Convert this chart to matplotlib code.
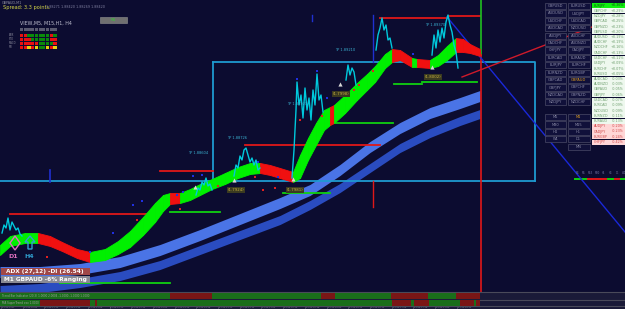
import matplotlib
matplotlib.use("Agg")
import matplotlib.pyplot as plt
from matplotlib.patches import Rectangle, Polygon
import numpy as np

# ---------------- data ----------------
# main trend band (upper edge, lower edge, state 1=green 0=red)
band_x   = [0, 10, 25, 38, 50, 62, 77, 90, 105, 118, 130, 143, 155, 163, 170, 180, 190, 200, 212, 225, 238, 250, 260, 270, 280, 293, 300, 308, 316, 324, 330, 334, 345, 357, 367, 375, 385, 392, 400, 412, 417, 430, 438, 447, 456, 463, 470, 480]
band_top = [245, 236, 233, 233, 236, 242, 249, 252, 249, 241, 231, 217, 203, 195, 193, 193, 189, 184, 179, 173, 167, 163, 163, 165, 168, 172, 155, 138, 123, 110, 107, 105, 95, 83, 74, 66, 54, 49, 50, 58, 59, 60, 55, 46, 38, 39, 44, 49]
band_bot = [255, 246, 243, 243, 246, 251, 258, 262, 260, 254, 247, 235, 222, 211, 204, 203, 200, 195, 189, 184, 178, 174, 173, 175, 178, 182, 178, 160, 145, 130, 125, 123, 113, 100, 90, 82, 68, 62, 60, 67, 67, 68, 66, 60, 52, 52, 53, 56]
band_state = [1, 1, 1, 0, 0, 0, 0, 1, 1, 1, 1, 1, 1, 1, 0, 1, 1, 1, 1, 1, 1, 1, 0, 0, 0, 1, 1, 1, 1, 1, 0, 1, 1, 1, 1, 1, 1, 0, 0, 1, 0, 1, 1, 1, 0, 0, 0, 0]

# moving-average ribbons
ma_x      = [0, 40, 80, 120, 160, 200, 240, 280, 310, 340, 370, 400, 430, 460, 480]
ma_light  = [272, 272, 269, 262, 250, 235, 219, 203, 190, 170, 147, 128, 113, 103, 96]
ma_dark   = [290, 288, 283, 276, 265, 250, 235, 220, 205, 188, 168, 148, 133, 121, 114]

# price line clusters
price_a_x = [2, 4, 6, 8, 10, 12, 14, 16, 18, 20, 22]
price_a_y = [233, 225, 228, 218, 230, 222, 226, 230, 228, 234, 236]
price_b_x = [196, 198, 200, 202, 204, 206, 208, 210, 212]
price_b_y = [195, 188, 190, 182, 185, 178, 186, 184, 190]
price_c_x = [234, 236, 238, 240, 242, 244, 246, 248, 250, 252, 254, 256, 258, 260]
price_c_y = [176, 165, 168, 156, 160, 150, 148, 155, 162, 158, 165, 160, 170, 168]
price_d_x = [292, 294, 296, 297, 299, 301, 303, 305, 307, 309, 311, 313, 315, 317, 319, 321, 323]
price_d_y = [178, 150, 110, 82, 105, 95, 118, 88, 110, 98, 120, 90, 105, 74, 100, 95, 112]
price_e_x = [346, 348, 350, 352, 354, 356]
price_e_y = [80, 65, 75, 68, 72, 85]
price_f_x = [376, 378, 380, 382, 384, 386, 388, 390, 392]
price_f_y = [50, 35, 28, 18, 30, 25, 40, 38, 48]
price_g_x = [432, 434, 436, 438, 440, 442, 444, 446, 448, 450, 452, 454, 456, 458]
price_g_y = [55, 35, 48, 30, 42, 28, 38, 22, 15, 25, 32, 45, 52, 68]

red_dots_x = [47, 137, 180, 218, 255, 263, 275, 300, 322, 354, 359, 373]
red_dots_y = [257, 220, 209, 186, 177, 190, 188, 120, 116, 90, 85, 71]
blue_dots_x = [90, 113, 133, 142, 177, 183, 193, 202, 258, 278, 297, 317, 327, 413]
blue_dots_y = [252, 233, 205, 201, 195, 192, 176, 175, 162, 177, 79, 71, 98, 54]
arrow_x = [195, 234, 293, 340, 432]
arrow_y = [187, 180, 179, 84, 67]

# level lines
red_levels = [(10, 160, 214), (160, 213, 171), (245, 380, 145), (380, 448, 18), (448, 480, 16)]
green_levels = [(60, 170, 283), (170, 220, 212), (283, 330, 193), (332, 393, 123), (394, 422, 84), (422, 477, 82)]

tp_labels = ["TP 1.88604", "TP 1.88726", "TP 1.88923", "TP 1.89210", "TP 1.89370"]
tp_pos_x = [188, 227, 287, 335, 425]
tp_pos_y = [153, 138, 104, 50, 25]
entry_labels = ["(1.7924)", "(1.7981)", "(1.7998)", "(1.8002)"]
entry_x = [228, 287, 333, 425]
entry_y = [190, 190, 94, 77]

# top-left grid
grid_rows = ["ADX", "STO", "MACD", "RSI"]
grid_vals = [
    "RRGGGGGGRG",
    "RRRGGGGGRR",
    "RRRRRGGGGR",
    "RRYRYGGYRY",
]

# right pair buttons
btn_left  = ["GBPUSD", "AUDUSD", "USDCHF", "AUDCAD", "AUDJPY", "CADCHF", "CHFJPY", "EURCAD", "EURJPY", "EURNZD", "GBPCAD", "GBPJPY", "NZDCAD", "NZDJPY"]
btn_right = ["EURUSD", "USDJPY", "USDCAD", "NZDUSD", "AUDCHF", "AUDNZD", "CADJPY", "EURAUD", "EURCHF", "EURGBP", "GBPAUD", "GBPCHF", "GBPNZD", "NZDCHF"]
tf_left  = ["M5", "M30", "H4", "W1", ""]
tf_right = ["M1", "M15", "H1", "D1", "MN"]

# strength list
list_pairs = ["EURJPY", "GBPCHF", "NZDJPY", "GBPCAD", "GBPNZD", "GBPUSD", "AUDUSD", "AUDCHF", "NZDCHF", "CADCHF", "USDCHF", "USDJPY", "EURCHF", "EURUSD", "AUDCAD", "AUDNZD", "GBPAUD", "GBPJPY", "USDCAD", "EURCAD", "NZDUSD", "EURNZD", "EURAUD", "AUDJPY", "CADJPY", "EURGBP", "CHFJPY"]
list_pct = [0.36, 0.29, 0.28, 0.25, 0.23, 0.20, 0.19, 0.19, 0.16, 0.13, 0.11, 0.09, 0.07, 0.05, -0.03, -0.03, -0.05, -0.06, -0.07, -0.09, -0.09, -0.11, -0.13, -0.20, -0.23, -0.24, -0.42]

# timeframe trend dashes (right)
tf_names = ["M1", "M5", "M15", "M30", "H1", "H4", "D1", "W1"]
tf_state = [1, 1, 0, 0, 0, 1, 0, 1]

# bottom indicator strips (segment edges + state)
strip1_edges = [0, 170, 212, 321, 335, 391, 428, 456, 480]
strip1_state = [1, 0, 1, 0, 1, 0, 1, 0]
strip2_edges = [0, 40, 90, 95, 97, 392, 411, 414, 429, 460, 474, 476, 480]
strip2_state = [1, 0, 1, 0, 1, 0, 1, 0, 1, 0, 1, 0]

time_labels = ["8 Sep 2021", "8 Sep 10:52", "8 Sep 11:14", "8 Sep 11:36", "8 Sep 11:58", "8 Sep 12:20",
               "8 Sep 12:42", "8 Sep 13:04", "8 Sep 13:26", "8 Sep 13:48", "8 Sep 14:10", "8 Sep 14:32",
               "8 Sep 14:54", "8 Sep 15:16", "8 Sep 15:38", "8 Sep 16:00", "8 Sep 16:22", "8 Sep 16:44",
               "8 Sep 17:06", "8 Sep 17:28", "8 Sep 17:50", "8 Sep 18:12"]

# ---------------- drawing ----------------
BG = "#0c0c30"
GREEN = "#00f000"
RED = "#f01010"
CYAN = "#00c8dc"
BOX = "#1e9ad0"

fig = plt.figure(figsize=(6.25, 3.09), dpi=100)
fig.patch.set_facecolor(BG)
ax = fig.add_axes([0, 0, 1, 1])
ax.set_facecolor(BG)
ax.set_xlim(0, 625)
ax.set_ylim(309, 0)
ax.axis("off")

# MA ribbons
ma_x_a = np.array(ma_x, float)
ax.fill_between(ma_x_a, np.array(ma_light) - 5.5, np.array(ma_light) + 5.5, color="#4a74e6", lw=0, zorder=2)
ax.fill_between(ma_x_a, np.array(ma_dark) - 4.5, np.array(ma_dark) + 4.5, color="#2a4cc0", lw=0, zorder=2)

# cyan box and horizontal line
ax.plot([213, 535, 535], [62, 62, 181], color=BOX, lw=1.3, zorder=3)
ax.plot([213, 213], [62, 181], color=BOX, lw=1.3, zorder=3)
ax.plot([0, 535], [181, 181], color=BOX, lw=1.3, zorder=3)

# trend band
for i in range(len(band_x) - 1):
    c = GREEN if band_state[i] else RED
    ax.fill_between([band_x[i], band_x[i + 1]], [band_top[i], band_top[i + 1]],
                    [band_bot[i], band_bot[i + 1]], color=c, lw=0.6, edgecolor=c, zorder=4)

# level lines
for x0, x1, y in red_levels:
    ax.plot([x0, x1], [y, y], color="#e01818", lw=1.3, zorder=3)
for x0, x1, y in green_levels:
    ax.plot([x0, x1], [y, y], color="#10d010", lw=1.3, zorder=3)

# verticals
ax.plot([481, 481], [0, 55], color="#20c020", lw=1.2, zorder=3)
ax.plot([481, 481], [55, 292], color="#e01818", lw=1.2, zorder=3)
ax.plot([373, 373], [181, 207], color="#e01818", lw=1.0, zorder=3)
ax.plot([373, 373], [15, 62], color="#2030d0", lw=1.0, zorder=3)
ax.plot([50, 50], [170, 182], color="#2030d0", lw=1.2, zorder=3)
ax.plot([312, 312], [15, 21], color="#2030d0", lw=1.0, zorder=3)

# diagonals
ax.plot([447, 625], [17, 232], color="#1a28d8", lw=1.0, zorder=3)
ax.plot([462, 592], [77, 27], color="#d01a2a", lw=1.0, zorder=3)

# price lines
for px, py in [(price_a_x, price_a_y), (price_b_x, price_b_y), (price_c_x, price_c_y),
               (price_d_x, price_d_y), (price_e_x, price_e_y), (price_f_x, price_f_y),
               (price_g_x, price_g_y)]:
    ax.plot(px, py, color=CYAN, lw=1.0, zorder=5)

ax.scatter(red_dots_x, red_dots_y, s=2.5, color="#e02020", marker="s", zorder=5, lw=0)
ax.scatter(blue_dots_x, blue_dots_y, s=2.5, color="#2030e0", marker="s", zorder=5, lw=0)
ax.scatter(arrow_x, arrow_y, s=9, color="#d8d8d8", marker="^", zorder=6, lw=0)

for t, x, y in zip(tp_labels, tp_pos_x, tp_pos_y):
    ax.text(x, y, t, color="#3ab0d0", fontsize=2.6, ha="left", va="center", zorder=6)
for t, x, y in zip(entry_labels, entry_x, entry_y):
    ax.text(x, y, t, color="#c8b040", fontsize=2.8, ha="left", va="center", zorder=6,
            bbox=dict(boxstyle="square,pad=0.15", fc="#3a3a20", ec="none"))

# D1 / H4 symbols
ax.add_patch(Polygon([[15, 236], [20, 243], [15, 250], [10, 243]], closed=True, fill=False, ec="#e070c0", lw=1.0, zorder=7))
ax.add_patch(Polygon([[30, 236], [35, 242], [32, 242], [32, 249], [28, 249], [28, 242], [25, 242]], closed=True,
                     fill=False, ec="#30a0d0", lw=1.0, zorder=7))
ax.text(8, 256, "D1", color="#e070c0", fontsize=4.5, fontweight="bold", va="center", zorder=7)
ax.text(24, 256, "H4", color="#30a0d0", fontsize=4.5, fontweight="bold", va="center", zorder=7)

# ADX boxes
ax.add_patch(Rectangle((1, 267.5), 89, 7, fc="#a04848", ec="none", zorder=7))
ax.text(45, 271, "ADX (27,12) -DI (26.54)", color="white", fontsize=4.2, fontweight="bold",
        ha="center", va="center", zorder=8)
ax.add_patch(Rectangle((1, 276), 89, 7.3, fc="#8a8a94", ec="none", zorder=7))
ax.text(45, 279.7, "M1 GBPAUD -6% Ranging", color="white", fontsize=4.2, fontweight="bold",
        ha="center", va="center", zorder=8)

# top-left texts
ax.text(2, 2.5, "GBPAUD,M1", color="#9090a0", fontsize=2.4, va="center")
ax.text(3, 7.5, "Spread: 3.3 points.", color="#d8d848", fontsize=3.6, va="center")
ax.text(46, 6.5, "1.88271 1.88420 1.88269 1.88420", color="#8080a0", fontsize=2.4, va="center")
ax.add_patch(Rectangle((100, 17), 27, 6, fc="#707070", ec="#909090", lw=0.4))
ax.text(113.5, 20, "M1", color="#30d030", fontsize=2.5, ha="center", va="center")

ax.text(20, 23.5, "VIEW,M5, M15,H1, H4", color="#c0c0d0", fontsize=3.4, va="center")
for j in range(10):
    ax.add_patch(Rectangle((20 + j * 3.7, 28), 3.2, 3, fc="#5a5a70", ec="none"))
cmap = {"R": "#e81010", "G": "#0a8a0a", "Y": "#e8d010"}
for r, (name, row) in enumerate(zip(grid_rows, grid_vals)):
    y0 = 34 + r * 4
    ax.text(9, y0 + 1.5, name, color="#9090a0", fontsize=1.8, va="center")
    for j, ch in enumerate(row):
        ax.add_patch(Rectangle((20 + j * 3.7, y0), 3.2, 3.2, fc=cmap[ch], ec="none"))

# right pair buttons
def btn(x, y, w, label, col="#8c8ca8"):
    ax.add_patch(Rectangle((x, y), w, 6.2, fc="#10103a", ec="#4a4a66", lw=0.5, zorder=8))
    ax.text(x + w / 2, y + 3.1, label, color=col, fontsize=2.6, ha="center", va="center", zorder=9)

for i, (a, b) in enumerate(zip(btn_left, btn_right)):
    y = 3 + i * 7.4
    btn(545, y, 21, a)
    btn(567.5, y, 22, b, "#e0a020" if b == "GBPAUD" else "#8c8ca8")
for i, (a, b) in enumerate(zip(tf_left, tf_right)):
    y = 114 + i * 7.4
    if a:
        btn(545, y, 21, a)
    btn(567.5, y, 22, b, "#e0a020" if b == "M1" else "#8c8ca8")

# strength list
for i, (p, v) in enumerate(zip(list_pairs, list_pct)):
    y = 3 + i * 5.25
    if i == 0:
        fc, tc = "#10f010", "#105010"
    elif v <= -0.20:
        fc, tc = "#ffd6d6", "#d04848"
    else:
        fc, tc = "#eef8ee", "#70a070"
    ax.add_patch(Rectangle((592, y), 33, 5.0, fc=fc, ec="none", zorder=8))
    ax.text(594, y + 2.5, p, color=tc, fontsize=2.4, va="center", zorder=9)
    ax.text(624, y + 2.5, f"{v:+.2f}%", color=tc, fontsize=2.4, va="center", ha="right", zorder=9)

# timeframe trend dashes
for i, (n, s) in enumerate(zip(tf_names, tf_state)):
    x = 575 + i * 6.6
    ax.text(x + 2.5, 172.5, n, color="#7070a0", fontsize=1.8, ha="center", va="center")
    ax.plot([x, x + 5], [179, 179], color="#10d010" if s else "#e01818", lw=1.4)

# bottom strips
ax.add_patch(Rectangle((0, 291.5), 625, 17.5, fc="#1a1a38", ec="none", zorder=9))
for yb in [292, 299.5, 306.3]:
    ax.plot([0, 625], [yb, yb], color="#4a4a5a", lw=0.8, zorder=10)
for edges, states, y0, h in [(strip1_edges, strip1_state, 293, 6), (strip2_edges, strip2_state, 300.3, 5.5)]:
    for k in range(len(states)):
        ax.add_patch(Rectangle((edges[k], y0), edges[k + 1] - edges[k], h,
                               fc="#1a6e1a" if states[k] else "#7a1616", ec="none", zorder=10))
ax.text(2, 296, "Trend Bar Indicator (20,3) 1.0000 2.0004 -1.0000 -1.0000 1.0000", color="#a0a0a0",
        fontsize=2.0, va="center", zorder=11)
ax.text(2, 303, "MA SuperTrend xxx 1.0000", color="#a0a0a0", fontsize=2.0, va="center", zorder=11)
for i, t in enumerate(time_labels):
    x = 1 + i * 21.7
    ax.plot([x, x], [306.5, 308], color="#707080", lw=0.4, zorder=11)
    ax.text(x + 1, 308, t, color="#808090", fontsize=1.6, va="center", zorder=11)

fig.savefig("out.png", dpi=100, facecolor=BG)
